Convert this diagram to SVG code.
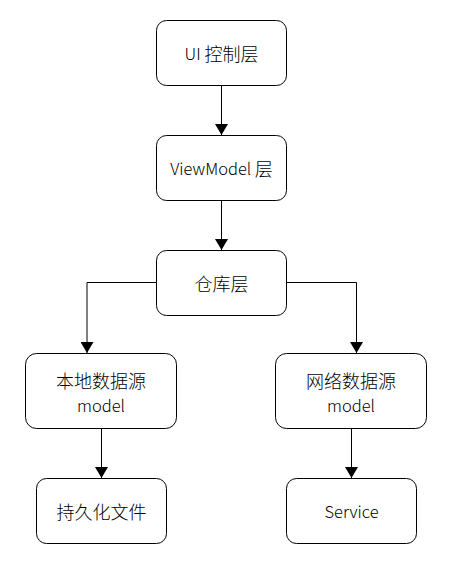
<svg xmlns="http://www.w3.org/2000/svg" width="453" height="563" viewBox="0 0 453 563">
<style>
.box{fill:#ffffff;stroke:#000000;stroke-width:1}
.lbl{font-family:"Noto Sans CJK SC","Noto Sans",sans-serif;font-size:16.5px;font-weight:300;fill:#000000;text-anchor:middle;dominant-baseline:central}
.cjk{font-size:18px}
.edge{fill:none;stroke:#000000;stroke-width:1}
</style>
<defs>
<marker id="arr" viewBox="0 0 11 13" refX="11" refY="6.5" markerWidth="11" markerHeight="13" markerUnits="userSpaceOnUse" orient="auto">
<path d="M0,0 L11,6.5 L0,13 Z" fill="#000000"/>
</marker>
</defs>
<rect width="453" height="563" fill="#ffffff"/>
<g id="connectors">
<path class="edge" d="M221.5,85 V135" marker-end="url(#arr)"/>
<path class="edge" d="M221.5,200 V250" marker-end="url(#arr)"/>
<path class="edge" d="M157,282.5 H87 V353" marker-end="url(#arr)"/>
<path class="edge" d="M287,282.5 H356.5 V353" marker-end="url(#arr)"/>
<path class="edge" d="M101.5,429 V478" marker-end="url(#arr)"/>
<path class="edge" d="M351.5,429 V478" marker-end="url(#arr)"/>
</g>
<g id="ui">
<rect class="box" x="156.5" y="20.5" width="130" height="65" rx="10" ry="10"/>
<text class="lbl" x="221.5" y="53">UI <tspan class="cjk">控制层</tspan></text>
</g>
<g id="viewmodel">
<rect class="box" x="156.5" y="135.5" width="130" height="65" rx="10" ry="10"/>
<text class="lbl" x="221.5" y="168">ViewModel <tspan class="cjk">层</tspan></text>
</g>
<g id="repo">
<rect class="box" x="156.5" y="250.5" width="130" height="65" rx="10" ry="10"/>
<text class="lbl cjk" x="221.5" y="283">仓库层</text>
</g>
<g id="local">
<rect class="box" x="25.5" y="353.5" width="151" height="75" rx="11" ry="11"/>
<text class="lbl cjk" x="101" y="380">本地数据源</text>
<text class="lbl" x="101" y="405">model</text>
</g>
<g id="remote">
<rect class="box" x="275.5" y="353.5" width="151" height="75" rx="11" ry="11"/>
<text class="lbl cjk" x="351" y="380">网络数据源</text>
<text class="lbl" x="351" y="405">model</text>
</g>
<g id="persist">
<rect class="box" x="36.5" y="478.5" width="130" height="65" rx="10" ry="10"/>
<text class="lbl cjk" x="101.5" y="511">持久化文件</text>
</g>
<g id="service">
<rect class="box" x="286.5" y="478.5" width="130" height="65" rx="10" ry="10"/>
<text class="lbl" x="351.5" y="511">Service</text>
</g>
</svg>
